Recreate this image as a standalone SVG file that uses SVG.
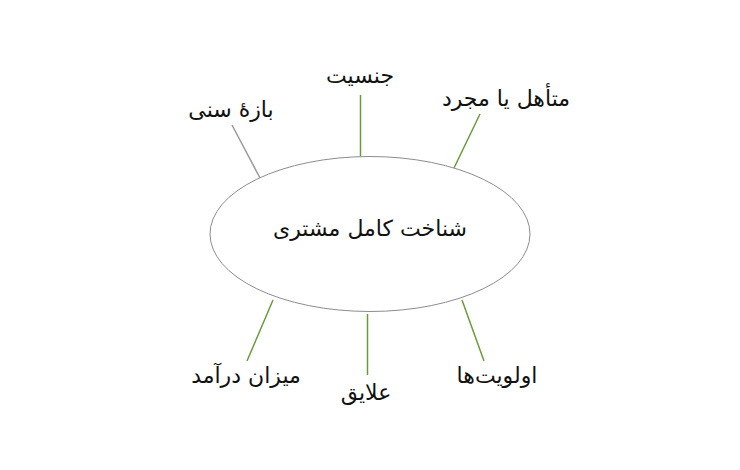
<svg xmlns="http://www.w3.org/2000/svg" width="740" height="470" viewBox="0 0 740 470">
<style>
text{font-family:"DejaVu Sans","Noto Sans",sans-serif;font-size:22px;fill:#111111;text-anchor:middle;direction:rtl}
.g{stroke:#6b9a3d;stroke-width:1.5;fill:none}
.gr{stroke:#9a9a9a;stroke-width:1.5;fill:none}
</style>
<rect width="740" height="470" fill="#ffffff"/>
<g id="connectors">
<line class="gr" x1="232" y1="125" x2="260" y2="178"/>
<line class="g" x1="360.5" y1="95" x2="360.5" y2="156"/>
<line class="g" x1="480" y1="114" x2="454" y2="168"/>
<line class="g" x1="273" y1="300" x2="247" y2="361"/>
<line class="g" x1="367.5" y1="314" x2="367.5" y2="375"/>
<line class="g" x1="462" y1="300" x2="484" y2="361"/>
</g>
<g id="center">
<ellipse cx="370" cy="234" rx="160" ry="77.5" fill="#ffffff" stroke="#8c8c8c" stroke-width="1"/>
<text x="370" y="236">شناخت کامل مشتری</text>
</g>
<g id="n-age"><text x="231" y="117">بازهٔ سنی</text></g>
<g id="n-gender"><text x="360" y="83">جنسیت</text></g>
<g id="n-marital"><text x="506" y="106">متأهل یا مجرد</text></g>
<g id="n-income"><text x="246" y="383">میزان درآمد</text></g>
<g id="n-interests"><text x="366" y="400">علایق</text></g>
<g id="n-priorities"><text x="497" y="383">اولویت‌ها</text></g>
</svg>
